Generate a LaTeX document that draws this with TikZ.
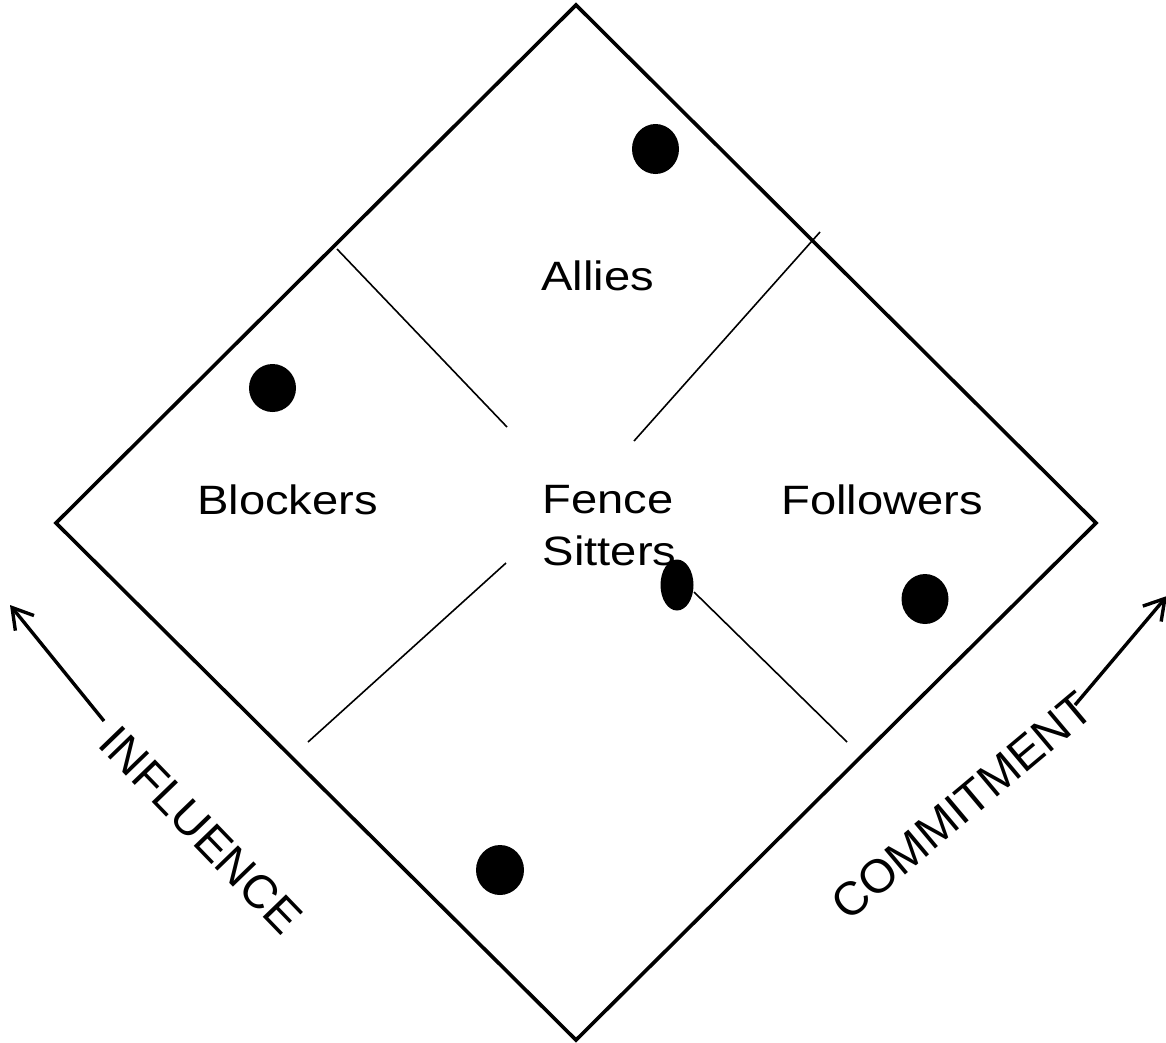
\documentclass[tikz,border=0pt]{standalone}
\usepackage{fontspec}
\setmainfont{Liberation Sans}
\usetikzlibrary{arrows.meta}
\begin{document}
\begin{tikzpicture}[x=1pt,y=-1pt,
  frame/.style={line width=3.6pt,line join=miter},
  divider/.style={line width=1.6pt},
  dot/.style={fill=black},
  axisarrow/.style={line width=3.4pt,-{Straight Barb[length=20pt,width=24pt,line width=3.4pt]}},
  lbl/.style={inner sep=0pt,font=\fontsize{41}{49}\selectfont},
  axislbl/.style={inner sep=0pt,font=\fontsize{47}{56}\selectfont}]
\useasboundingbox (0,0) rectangle (1166,1042);
% diamond vertices
\coordinate (T) at (576,5);
\coordinate (R) at (1096,523);
\coordinate (B) at (576,1040);
\coordinate (L) at (56,523);
\draw[frame] (T) -- (R) -- (B) -- (L) -- cycle;
% dividers
\coordinate (d1a) at (337,249);  \coordinate (d1b) at (507,427);
\coordinate (d2a) at (634,441);  \coordinate (d2b) at (820,232);
\coordinate (d3a) at (308,742);  \coordinate (d3b) at (506,563);
\coordinate (d4a) at (694,592);  \coordinate (d4b) at (847,742);
\draw[divider] (d1a) -- (d1b);
\draw[divider] (d2a) -- (d2b);
\draw[divider] (d3a) -- (d3b);
\draw[divider] (d4a) -- (d4b);
% dots
\fill[dot] (655.5,149) ellipse [x radius=23.5pt, y radius=25pt];
\fill[dot] (272.5,388) ellipse [x radius=23.5pt, y radius=24pt];
\fill[dot] (925,599) ellipse [x radius=23.5pt, y radius=25pt];
\fill[dot] (500,870) ellipse [x radius=24pt, y radius=25pt];
% labels
\node[lbl,anchor=base west] (allies) at (541,290) {\scalebox{1.15}[1]{Allies}};
\node[lbl,anchor=base west] (blockers) at (197,514) {\scalebox{1.15}[1]{Blockers}};
\node[lbl,anchor=base west] (fence) at (542.5,513) {\scalebox{1.15}[1]{Fence}};
\node[lbl,anchor=base west] (sitters) at (542.5,565) {\scalebox{1.15}[1]{Sitters}};
\node[lbl,anchor=base west] (followers) at (781,514) {\scalebox{1.15}[1]{Followers}};
\fill[dot] (677,585) ellipse [x radius=16.5pt, y radius=25.5pt];
% axes
\coordinate (ia) at (104,721); \coordinate (ib) at (10,605);
\draw[axisarrow] (ia) -- (ib);
\coordinate (ca) at (1075,705); \coordinate (cb) at (1167,596);
\draw[axisarrow] (ca) -- (cb);
\node[axislbl,rotate=-46] (influence) at (201,830) {INFLUENCE};
\node[axislbl,rotate=40] (commitment) at (962,806) {COMMITMENT};
\end{tikzpicture}
\end{document}
